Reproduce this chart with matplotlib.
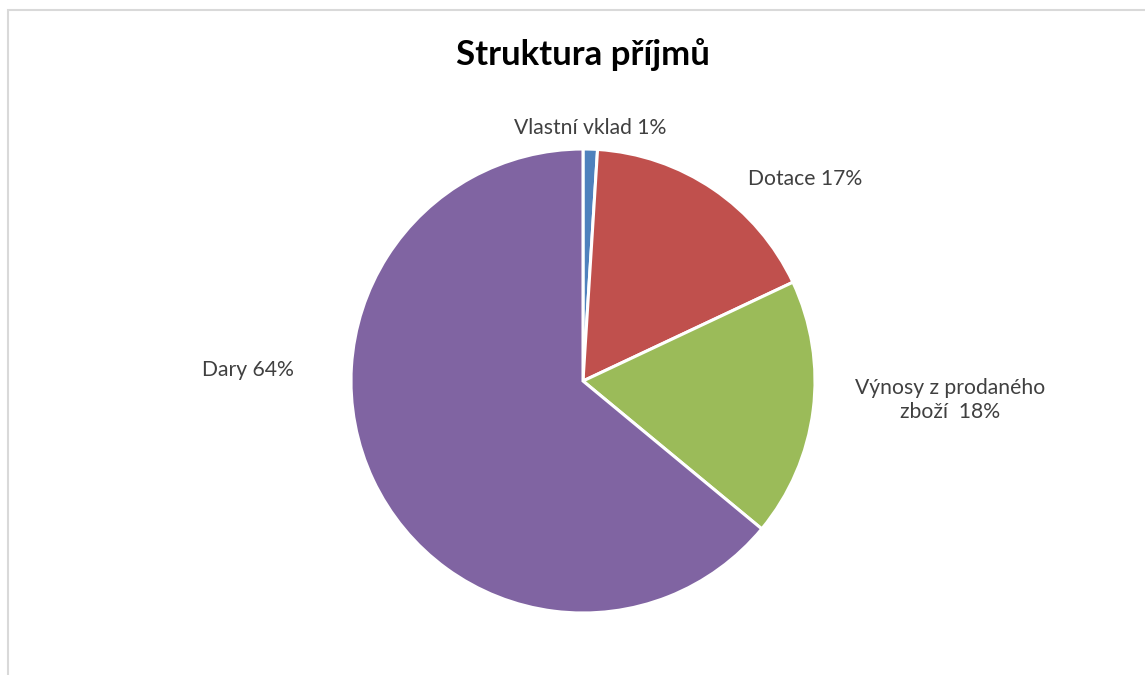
import matplotlib
matplotlib.use("Agg")
import matplotlib.pyplot as plt
from matplotlib.patches import Rectangle

categories = ["Vlastní vklad", "Dotace", "Výnosy z prodaného\nzboží ", "Dary"]
values = [1, 17, 18, 64]
colors = ["#4F81BD", "#C0504D", "#9BBB59", "#8064A2"]
label_pos = [(0.03, 1.09), (0.957, 0.871), (1.582, -0.082), (-1.444, 0.047)]

plt.rcParams['font.family'] = ['Lato', 'DejaVu Sans']

W, H = 1145, 675
fig = plt.figure(figsize=(W / 100, H / 100), dpi=100)
fig.patch.set_facecolor("white")

# chart border (left and top visible, rest cropped)
fig.patches.append(Rectangle((7.5 / W, -0.1), 1.2, (H - 10) / H + 0.1,
                             transform=fig.transFigure, fill=False,
                             edgecolor="#D9D9D9", linewidth=1.5))

cx, cy, r = 583, 381, 232
ax = fig.add_axes([(cx - r) / W, (H - cy - r) / H, 2 * r / W, 2 * r / H])
ax.pie(values, colors=colors, startangle=90, counterclock=False,
       wedgeprops=dict(edgecolor="white", linewidth=2.2))
ax.set_xlim(-1, 1)
ax.set_ylim(-1, 1)
ax.set_aspect("equal")
ax.axis("off")

for cat, v, (x, y) in zip(categories, values, label_pos):
    ax.text(x, y, f"{cat} {v}%", ha="center", va="center", fontsize=15.2,
            color="#404040", linespacing=1.3, multialignment="center")

fig.text(cx / W, 1 - 55 / H, "Struktura příjmů", ha="center", va="center",
         fontsize=25, fontweight="bold", color="black")

fig.savefig("out.png", dpi=100)
